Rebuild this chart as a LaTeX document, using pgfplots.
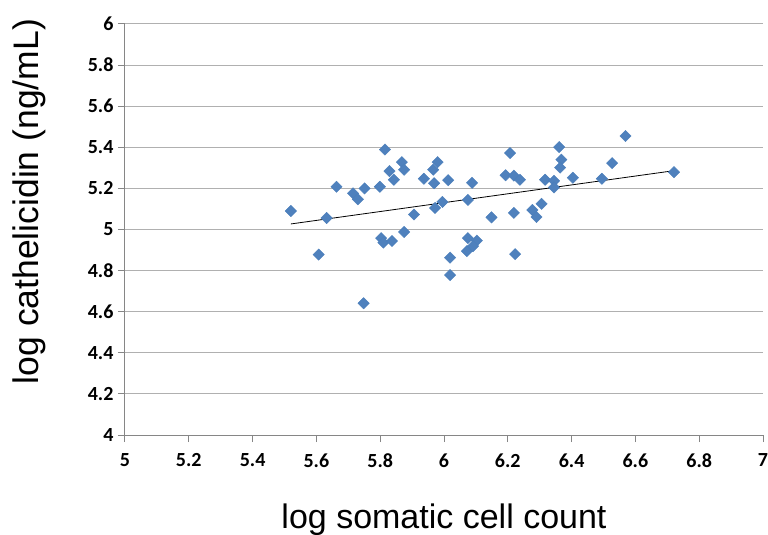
\documentclass[border=0pt]{standalone}
\usepackage{pgfplots}
\pgfplotsset{compat=1.18}
\usepackage{fontspec}
\setmainfont{Liberation Sans}
\newfontfamily\carlito{Carlito}
\definecolor{excelblue}{HTML}{4F81BD}
\definecolor{markedge}{HTML}{4A7EBB}
\definecolor{axisgray}{HTML}{868686}
\definecolor{gridgray}{HTML}{B0B0B0}
\begin{document}
\begin{tikzpicture}
\path[use as bounding box] (-125pt,-100pt) rectangle (643pt,435pt);
\begin{axis}[
  at={(0,0)}, anchor=south west,
  scale only axis, width=638pt, height=411pt,
  xmin=5, xmax=7, ymin=4, ymax=6,
  xtick={5,5.2,5.4,5.6,5.8,6,6.2,6.4,6.6,6.8,7},
  ytick={4,4.2,4.4,4.6,4.8,5,5.2,5.4,5.6,5.8,6},
  axis x line*=bottom, axis y line*=left,
  axis line style={axisgray, line width=1pt},
  tick style={axisgray, line width=1pt},
  tick align=outside, major tick length=7pt,
  ymajorgrids, grid style={gridgray, line width=1pt},
  /pgf/number format/assume math mode=true,
  ticklabel style={font=\carlito\bfseries\fontsize{20}{24}\selectfont},
  yticklabel style={xshift=-1pt},
  xticklabel style={yshift=-8pt},
  xlabel={log somatic cell count},
  ylabel={log cathelicidin (ng/mL)},
  xlabel style={font=\fontsize{34}{40}\selectfont,
    at={(axis description cs:0.5,-0.2263)}, anchor=base},
  ylabel style={font=\fontsize{35.5}{40}\selectfont,
    at={(axis description cs:-0.150,0.568)}, anchor=center},
  clip=false,
]
\addplot[only marks, mark=square*, mark size=4pt,
  mark options={fill=excelblue, draw=markedge, rotate=45}] coordinates {
(5.520,5.090) (5.607,4.878) (5.632,5.056) (5.663,5.208) (5.715,5.176)
(5.730,5.147) (5.751,5.200) (5.748,4.641) (5.799,5.208) (5.815,5.389)
(5.803,4.958) (5.810,4.936) (5.837,4.944) (5.829,5.284) (5.843,5.242)
(5.868,5.328) (5.875,5.291) (5.875,4.988) (5.906,5.073) (5.937,5.247)
(5.969,5.225) (5.966,5.291) (5.980,5.328) (5.972,5.105) (5.995,5.134)
(6.013,5.240) (6.019,4.863) (6.019,4.778) (6.075,5.144) (6.088,5.227)
(6.075,4.958) (6.072,4.895) (6.103,4.946) (6.091,4.919) (6.149,5.059)
(6.193,5.264) (6.207,5.372) (6.219,5.262) (6.238,5.242) (6.219,5.081)
(6.223,4.880) (6.277,5.095) (6.290,5.061) (6.306,5.125) (6.317,5.242)
(6.345,5.237) (6.345,5.205) (6.361,5.401) (6.368,5.340) (6.364,5.301)
(6.404,5.252) (6.495,5.247) (6.527,5.323) (6.569,5.455) (6.721,5.279)
};
% linear trend line
\addplot[black, line width=0.8pt] coordinates {(5.52,5.027) (6.72,5.286)};
\end{axis}
\end{tikzpicture}
\end{document}
